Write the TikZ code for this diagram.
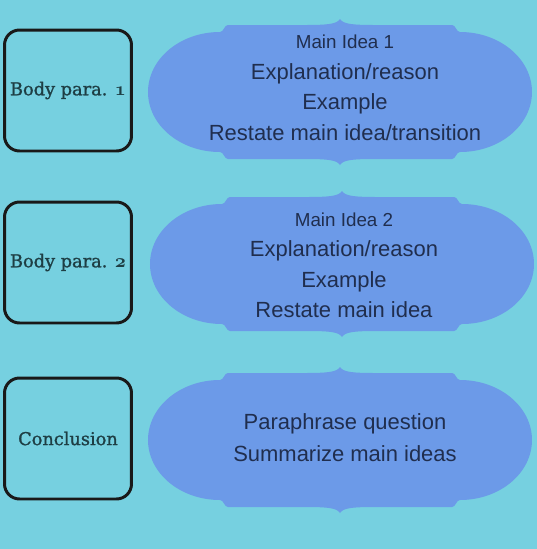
\documentclass[tikz,border=0pt]{standalone}
\usepackage{xcolor}
\usepackage{fontspec}
\usepackage{tikz}
\setmainfont{DejaVu Serif}[FakeBold=1.2]
\newfontfamily\scrollfont{Liberation Sans}
\newcommand\osfig[1]{{\usefont{OML}{cmm}{b}{it}\fontsize{11}{12}\selectfont#1}}
\definecolor{bgcyan}{RGB}{118,208,224}
\definecolor{scrollblue}{RGB}{108,154,232}
\definecolor{inktext}{RGB}{32,46,78}
\definecolor{boxtext}{RGB}{30,62,68}
\tikzset{
  parabox/.style={draw=black!90,line width=1.7pt,rounded corners=0.3cm,
    minimum width=2.54cm,minimum height=2.42cm,inner sep=0pt,
    text=boxtext,font=\fontsize{10.1}{12}\selectfont},
  idealine/.style={anchor=base,text=inktext,inner sep=0pt,
    font=\scrollfont\fontsize{10.7}{12}\selectfont},
  textline/.style={anchor=base,text=inktext,inner sep=0pt,
    font=\scrollfont\fontsize{12.5}{14}\selectfont},
  scroll/.pic={
    \fill[scrollblue] (0,-73)
      .. controls (3,-68) and (12,-67) .. (35,-67)
      .. controls (70,-67) and (100,-67) .. (112,-67)
      .. controls (116,-67) and (116,-60) .. (120,-60)
      .. controls (160,-60) and (192,-33) .. (192,0)
      .. controls (192,33) and (160,60) .. (120,60)
      .. controls (116,60) and (116,67) .. (112,67)
      .. controls (100,67) and (70,67) .. (35,67)
      .. controls (12,67) and (3,68) .. (0,73)
      .. controls (-3,68) and (-12,67) .. (-35,67)
      .. controls (-70,67) and (-100,67) .. (-112,67)
      .. controls (-116,67) and (-116,60) .. (-120,60)
      .. controls (-160,60) and (-192,33) .. (-192,0)
      .. controls (-192,-33) and (-160,-60) .. (-120,-60)
      .. controls (-116,-60) and (-116,-67) .. (-112,-67)
      .. controls (-100,-67) and (-70,-67) .. (-35,-67)
      .. controls (-12,-67) and (-3,-68) .. (0,-73) -- cycle;
  }
}
\begin{document}
\begin{tikzpicture}[x=0.02cm,y=-0.02cm]
    \fill[bgcyan] (0,0) rectangle (537,549);
    \useasboundingbox (0,0) rectangle (537,549);
    % left column
    \foreach \y/\t/\n in {90.5/Body para. \osfig{1}/body1,262.5/Body para. \osfig{2}/body2,438.5/Conclusion/concl}{
      \node[parabox] (\n) at (68,\y) {\t};
    }
    % scrolls
    \foreach \x/\y/\n in {340/92/s1,342/264/s2,340/440/s3}{
      \pic (\n) at (\x,\y) {scroll};
    }
    \node[idealine] (idea1) at (345,48) {Main Idea 1};
    \node[textline] (expl1) at (345,79) {Explanation/reason};
    \node[textline] (ex1) at (345,109) {Example};
    \node[textline] (rest1) at (345,140) {Restate main idea/transition};
    \node[idealine] (idea2) at (344,226) {Main Idea 2};
    \node[textline] (expl2) at (344,256) {Explanation/reason};
    \node[textline] (ex2) at (344,287) {Example};
    \node[textline] (rest2) at (344,317) {Restate main idea};
    \node[textline] (para3) at (345,429) {Paraphrase question};
    \node[textline] (summ3) at (345,461) {Summarize main ideas};
\end{tikzpicture}
\end{document}
